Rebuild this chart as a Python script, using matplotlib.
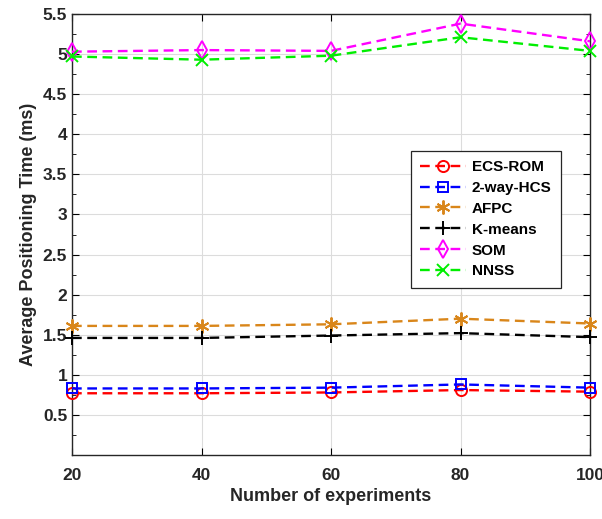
import numpy as np
import matplotlib
matplotlib.use('Agg')
import matplotlib.pyplot as plt
from matplotlib.ticker import MultipleLocator

plt.rcParams['font.family'] = ['Liberation Sans', 'DejaVu Sans']
plt.rcParams['font.weight'] = 'bold'
plt.rcParams['lines.scale_dashes'] = False

# data
experiments = [20, 40, 60, 80, 100]
ecs_rom = [0.77, 0.77, 0.78, 0.81, 0.79]
hcs_2way = [0.83, 0.83, 0.84, 0.88, 0.84]
afpc = [1.61, 1.61, 1.63, 1.70, 1.64]
kmeans = [1.46, 1.46, 1.49, 1.52, 1.47]
som = [5.03, 5.05, 5.04, 5.38, 5.16]
nnss = [4.97, 4.93, 4.98, 5.21, 5.04]

labels = ['ECS-ROM', '2-way-HCS', 'AFPC', 'K-means', 'SOM', 'NNSS']
series = [ecs_rom, hcs_2way, afpc, kmeans, som, nnss]
colors = ['#ff0000', '#0000ff', '#d9861a', '#000000', '#ff00ff', '#00ee00']
# MATLAB-like asterisk for AFPC
markers = ['o', 's', (6, 2, 0), '+', 'd', 'x']
msizes = [8, 7.5, 10, 10, 9, 8]

fig = plt.figure(figsize=(6.02, 5.19), dpi=100)
ax = fig.add_axes([72/602, 1 - 455/519, 518/602, 441/519])

for y, lab, c, m, ms in zip(series, labels, colors, markers, msizes):
    hollow = m in ('o', 's', 'd')
    ax.plot(experiments, y, linestyle=(0, (7, 4)), color=c, lw=1.7,
            marker=m, markersize=ms,
            markerfacecolor='none' if hollow else c, markeredgecolor=c,
            markeredgewidth=1.4, label=lab, clip_on=False, zorder=3)

ax.set_xlim(20, 100)
ax.set_ylim(0, 5.5)
ax.set_xticks(experiments)
ax.set_yticks(np.arange(0.5, 5.51, 0.5))
ax.set_yticklabels(['0.5', '1', '1.5', '2', '2.5', '3', '3.5', '4', '4.5', '5', '5.5'])
ax.yaxis.set_minor_locator(MultipleLocator(0.25))
ax.tick_params(which='both', direction='in', top=True, right=True, labelsize=12.5,
               labelcolor='#262626')
ax.tick_params(which='major', length=5)
ax.tick_params(which='minor', length=3)
ax.tick_params(axis='x', pad=9)
ax.grid(True, color='#dcdcdc', lw=0.8)
ax.set_axisbelow(True)
for s in ax.spines.values():
    s.set_color('#262626')
    s.set_linewidth(1.0)

ax.set_xlabel('Number of experiments', fontsize=13, fontweight='bold', color='#262626')
ax.set_ylabel('Average Positioning Time (ms)', fontsize=13, fontweight='bold', color='#262626')

leg = ax.legend(loc='upper right', bbox_to_anchor=(0.958, 0.707), fontsize=11,
                fancybox=False, edgecolor='#262626', framealpha=1,
                handlelength=3, handletextpad=0.4, labelspacing=0.45, borderpad=0.6)
leg.get_frame().set_linewidth(0.9)

fig.savefig('out.png', dpi=100)
